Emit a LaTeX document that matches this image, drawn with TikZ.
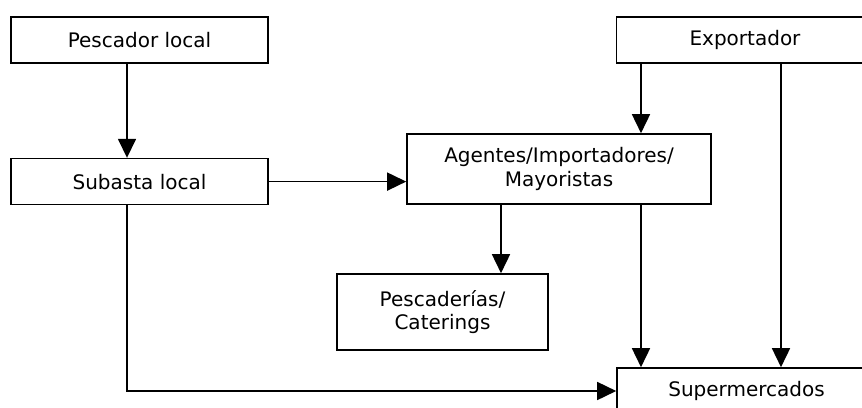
\documentclass[tikz,border=0pt]{standalone}
\usepackage{fontspec}
\setmainfont{DejaVu Sans}
\usetikzlibrary{positioning}
\usetikzlibrary{arrows.meta}

\begin{document}
\begin{tikzpicture}[x=1pt,y=-1pt,
	caja/.style={rectangle,draw=black,line width=1.6pt,minimum width=257pt,minimum height=46pt,inner sep=0pt,align=center,font=\fontsize{20}{23.5}\selectfont},
	flecha/.style={-{Triangle[length=19pt,width=18pt]},line width=1.6pt}]
	\useasboundingbox (0,0) rectangle (862,407);
	\clip (0,0) rectangle (862,407);
	\node[caja] (pescador) at (139.5,40) {Pescador local};
	\node[caja] (subasta) [below=94pt of pescador] {Subasta local};
	\node[caja,minimum width=304pt,minimum height=70pt] (agentes) at (559,169) {Agentes/Importadores/\\Mayoristas};
	\node[caja] (exportador) at (745,40) {Exportador};
	\node[caja,minimum width=211pt,minimum height=76pt] (pescaderias) at (442.5,312) {Pescaderías/\\Caterings};
	\node[caja,minimum width=259pt] (super) at (746.5,391) {Supermercados};

	\draw[flecha] ([xshift=-12.5pt]pescador.south) -- ([xshift=-12.5pt]subasta.north);
	\draw[flecha] (subasta.east) -- (subasta.east -| agentes.west);
	\draw[flecha] ([xshift=-104pt]exportador.south) -- ([xshift=82pt]agentes.north);
	\draw[flecha] ([xshift=-58pt]agentes.south) -- ([xshift=-58pt]agentes.south |- pescaderias.north);
	\draw[flecha] ([xshift=82pt]agentes.south) -- ([xshift=82pt]agentes.south |- super.north);
	\draw[flecha] ([xshift=36pt]exportador.south) -- ([xshift=36pt]exportador.south |- super.north);
	\draw[flecha] ([xshift=-12.5pt]subasta.south) |- (super.west);
\end{tikzpicture}
\end{document}
